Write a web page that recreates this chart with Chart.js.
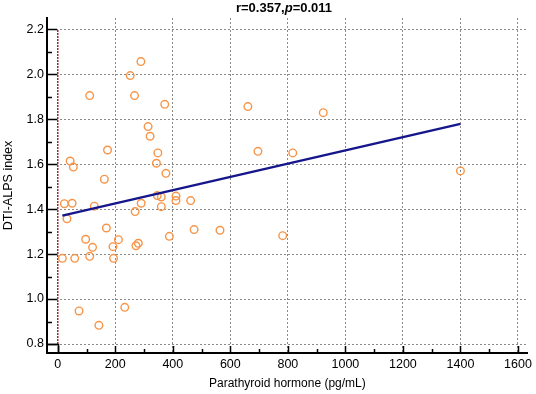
<!DOCTYPE html>
<html>
<head>
<meta charset="utf-8">
<script src="https://cdn.jsdelivr.net/npm/chart.js@4.4.1/dist/chart.umd.min.js"></script>
<style>
  html, body { margin: 0; padding: 0; background: #fff; }
  canvas { display: block; }
</style>
</head>
<body>
<canvas id="scatterChart" width="536" height="394"></canvas>
<script>
// Parathyroid hormone (pg/mL) vs DTI-ALPS index
const pthValues = [16, 23, 32, 43, 50, 54, 59, 74, 97, 111, 111, 121, 127, 143, 162, 169, 173, 192, 194, 211,
  233, 252, 267, 269, 272, 280, 289, 290, 314, 321, 343, 346, 348, 360, 360, 372, 376, 388, 411, 411,
  462, 474, 564, 661, 696, 782, 817, 923, 1400];
const dtiValues = [1.181, 1.424, 1.357, 1.614, 1.426, 1.587, 1.181, 0.947, 1.266, 1.905, 1.190, 1.230, 1.413, 0.883, 1.533, 1.316, 1.663, 1.233, 1.181, 1.264,
  0.963, 1.994, 1.905, 1.389, 1.237, 1.248, 2.056, 1.426, 1.767, 1.724, 1.604, 1.460, 1.650, 1.454, 1.411, 1.866, 1.559, 1.279, 1.458, 1.438,
  1.438, 1.309, 1.306, 1.856, 1.657, 1.282, 1.650, 1.829, 1.570];

// regression line ends
const fitX = [16, 1400];
const fitY = [1.371, 1.779];

// dotted red line at x = 0
const refX = [0, 0];
const refY = [0.8, 2.2];

const xTicks = [0, 200, 400, 600, 800, 1000, 1200, 1400, 1600];
const yTicks = [0.8, 1.0, 1.2, 1.4, 1.6, 1.8, 2.0, 2.2];

const rText = '0.357';
const pText = '0.011';

const FONT = '"Liberation Sans", Arial, sans-serif';

// tick marks drawn inside the axes + corner box + title
const axisDecor = {
  id: 'axisDecor',
  afterDraw(chart) {
    const { ctx, chartArea } = chart;
    const xs = chart.scales.x, ys = chart.scales.y;
    const left = chartArea.left, bottom = chartArea.bottom;
    ctx.save();
    ctx.strokeStyle = '#000';
    ctx.lineWidth = 1.5;

    ctx.beginPath();
    yTicks.forEach((v, i) => {
      const py = Math.round(ys.getPixelForValue(v)) + 0.5;
      ctx.moveTo(left, py); ctx.lineTo(left + 10, py);
      if (i < yTicks.length - 1) {
        const my = Math.round(ys.getPixelForValue((v + yTicks[i + 1]) / 2)) + 0.5;
        ctx.moveTo(left, my); ctx.lineTo(left + 5, my);
      }
    });
    xTicks.forEach((v, i) => {
      const px = Math.round(xs.getPixelForValue(v)) + 0.5;
      ctx.moveTo(px, bottom); ctx.lineTo(px, bottom - 7);
      if (i < xTicks.length - 1) {
        const mx = Math.round(xs.getPixelForValue((v + xTicks[i + 1]) / 2)) + 0.5;
        ctx.moveTo(mx, bottom); ctx.lineTo(mx, bottom - 4);
      }
    });
    ctx.stroke();

    // little box in the corner between the axes and (0, 0.8)
    const x0 = Math.round(xs.getPixelForValue(xTicks[0])) + 0.5;
    const y0 = Math.round(ys.getPixelForValue(yTicks[0])) + 0.5;
    ctx.strokeRect(left, y0, x0 - left, bottom - y0);

    // title with italic p
    const parts = [
      { t: 'r=' + rText + ',', f: 'bold 13px ' + FONT },
      { t: 'p', f: 'italic bold 13px ' + FONT },
      { t: '=' + pText, f: 'bold 13px ' + FONT }
    ];
    let total = 0;
    parts.forEach(p => { ctx.font = p.f; p.w = ctx.measureText(p.t).width; total += p.w; });
    let tx = 284 - total / 2;
    ctx.fillStyle = '#000';
    ctx.textBaseline = 'middle';
    parts.forEach(p => { ctx.font = p.f; ctx.fillText(p.t, tx, 8); tx += p.w; });
    ctx.restore();
  }
};

const ctx = document.getElementById('scatterChart').getContext('2d');

new Chart(ctx, {
  type: 'scatter',
  data: {
    datasets: [
      {
        label: 'Patients',
        data: pthValues.map((v, i) => ({ x: v, y: dtiValues[i] })),
        pointStyle: 'circle',
        pointRadius: 3.8,
        pointHoverRadius: 3.8,
        borderWidth: 1.4,
        borderColor: 'rgb(247,148,72)',
        backgroundColor: 'rgba(0,0,0,0)',
        order: 1
      },
      {
        label: 'Fit',
        data: fitX.map((v, i) => ({ x: v, y: fitY[i] })),
        showLine: true,
        pointRadius: 0,
        borderColor: '#16168c',
        borderWidth: 2.5,
        order: 0
      },
      {
        label: 'Zero',
        data: refX.map((v, i) => ({ x: v, y: refY[i] })),
        showLine: true,
        pointRadius: 0,
        borderColor: '#a0282d',
        borderWidth: 1.5,
        borderDash: [2, 1],
        order: 2
      }
    ]
  },
  options: {
    responsive: false,
    animation: false,
    devicePixelRatio: 1,
    layout: { padding: { top: 18, right: 6, left: 0, bottom: 0 } },
    plugins: {
      legend: { display: false },
      tooltip: { enabled: false },
      title: { display: false }
    },
    scales: {
      x: {
        type: 'linear',
        min: -37.4,
        max: 1634,
        afterBuildTicks: s => { s.ticks = xTicks.map(v => ({ value: v })); },
        afterFit: s => { s.height = 41; },
        grid: {
          drawTicks: false,
          lineWidth: 1,
          color: c => (c.tick && c.tick.value === 0) ? 'rgba(0,0,0,0)' : '#8a8a8a'
        },
        border: { display: true, color: '#000', width: 2, dash: [2, 2] },
        ticks: {
          padding: 4,
          color: '#000',
          font: { family: FONT, size: 12.5 },
          callback: v => String(v)
        },
        title: {
          display: true,
          text: 'Parathyroid hormone (pg/mL)',
          color: '#000',
          font: { family: FONT, size: 12 },
          padding: { top: 0, bottom: 3 }
        }
      },
      y: {
        type: 'linear',
        min: 0.76,
        max: 2.25,
        afterBuildTicks: s => { s.ticks = yTicks.map(v => ({ value: v })); },
        afterFit: s => { s.width = 47; },
        grid: {
          drawTicks: false,
          lineWidth: 1,
          color: '#8a8a8a'
        },
        border: { display: true, color: '#000', width: 2, dash: [2, 2] },
        ticks: {
          padding: 3,
          color: '#000',
          font: { family: FONT, size: 12.5 },
          callback: v => Number(v).toFixed(1)
        },
        title: {
          display: true,
          text: 'DTI-ALPS index',
          color: '#000',
          font: { family: FONT, size: 12.5 },
          padding: { top: 1, bottom: 0 }
        }
      }
    }
  },
  plugins: [axisDecor]
});
</script>
</body>
</html>
